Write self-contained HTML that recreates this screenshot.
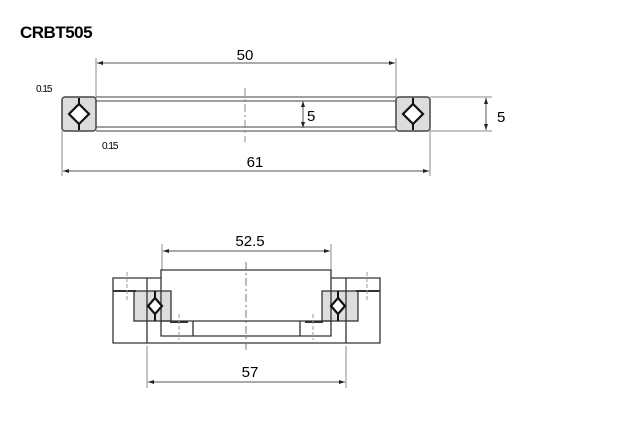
<!DOCTYPE html>
<html><head><style>body{margin:0;background:#fff}svg{display:block}</style></head><body>
<svg width="640" height="440" viewBox="0 0 640 440" xmlns="http://www.w3.org/2000/svg" font-family="Liberation Sans, sans-serif">
<defs>
<marker id="a" markerWidth="6" markerHeight="6" refX="6" refY="3" orient="auto-start-reverse" markerUnits="userSpaceOnUse"><path d="M0,1 L6,3 L0,5 z" fill="#222"/></marker>
</defs>
<text x="20" y="38" font-size="17" font-weight="bold" letter-spacing="-0.5">CRBT505</text>
<g stroke="#888" stroke-width="1" fill="none">
<line x1="96" y1="58" x2="96" y2="97"/><line x1="396" y1="58" x2="396" y2="97"/>
<line x1="62" y1="131" x2="62" y2="176"/><line x1="430" y1="131" x2="430" y2="176"/>
<line x1="430" y1="97" x2="492" y2="97"/><line x1="430" y1="131" x2="492" y2="131"/>
</g>
<g stroke="#555" stroke-width="1" fill="none">
<line x1="97" y1="63" x2="395" y2="63" marker-start="url(#a)" marker-end="url(#a)"/>
<line x1="63" y1="171" x2="429" y2="171" marker-start="url(#a)" marker-end="url(#a)"/>
<line x1="486" y1="98" x2="486" y2="130" marker-start="url(#a)" marker-end="url(#a)"/>
<line x1="303" y1="101" x2="303" y2="128" marker-start="url(#a)" marker-end="url(#a)"/>
</g>
<g stroke="#666" stroke-width="1.3">
<line x1="96" y1="97" x2="396" y2="97"/><line x1="96" y1="101" x2="396" y2="101"/>
<line x1="96" y1="127" x2="396" y2="127"/><line x1="96" y1="131" x2="396" y2="131"/>
</g>
<line x1="245" y1="88" x2="245" y2="142" stroke="#888" stroke-dasharray="8,3,2,3"/>
<rect x="62" y="97" width="34" height="34" rx="3" fill="#ddd" stroke="#444" stroke-width="1.5"/>
<rect x="396" y="97" width="34" height="34" rx="3" fill="#ddd" stroke="#444" stroke-width="1.5"/>
<g stroke="#111" stroke-width="2.2" fill="#fff">
<path d="M79,104 L89,114 L79,124 L69,114 Z"/><path d="M413,104 L423,114 L413,124 L403,114 Z"/>
</g>
<g stroke="#111" stroke-width="2"><line x1="79" y1="98" x2="79" y2="104"/><line x1="79" y1="124" x2="79" y2="130"/>
<line x1="413" y1="98" x2="413" y2="104"/><line x1="413" y1="124" x2="413" y2="130"/></g>
<text x="245" y="60" font-size="15" text-anchor="middle">50</text>
<text x="255" y="167" font-size="15" text-anchor="middle">61</text>
<text x="307" y="121" font-size="15">5</text>
<text x="497" y="122" font-size="15">5</text>
<text x="36" y="92" font-size="10" letter-spacing="-1">0.15</text>
<text x="102" y="149" font-size="10" letter-spacing="-1">0.15</text>
<g stroke="#888" stroke-width="1" fill="none">
<line x1="162" y1="244" x2="162" y2="270"/><line x1="331" y1="244" x2="331" y2="270"/>
<line x1="147" y1="346" x2="147" y2="388"/><line x1="346" y1="346" x2="346" y2="388"/>
</g>
<g stroke="#555" stroke-width="1" fill="none">
<line x1="163" y1="251" x2="330" y2="251" marker-start="url(#a)" marker-end="url(#a)"/>
<line x1="148" y1="382" x2="345" y2="382" marker-start="url(#a)" marker-end="url(#a)"/>
</g>
<text x="250" y="246" font-size="15" text-anchor="middle">52.5</text>
<text x="250" y="377" font-size="15" text-anchor="middle">57</text>
<rect x="134" y="291" width="37" height="30" fill="#ddd"/>
<rect x="322" y="291" width="36" height="30" fill="#ddd"/>
<g stroke="#333" stroke-width="1.3" fill="none">
<path d="M161,278 H113 V343 H380 V278 H331"/>
<line x1="147" y1="278" x2="147" y2="343"/><line x1="346" y1="278" x2="346" y2="343"/>
<path d="M161,336 V270 H331 V336 Z"/>
<line x1="161" y1="321" x2="331" y2="321"/>
<line x1="193" y1="321" x2="193" y2="336"/><line x1="300" y1="321" x2="300" y2="336"/>
<rect x="134" y="291" width="37" height="30"/><rect x="322" y="291" width="36" height="30"/>
<line x1="113" y1="291" x2="136" y2="291" stroke-width="2"/><line x1="356" y1="291" x2="380" y2="291" stroke-width="2"/>
<line x1="170" y1="322" x2="188" y2="322" stroke-width="2"/><line x1="305" y1="322" x2="323" y2="322" stroke-width="2"/>
</g>
<g stroke="#999" stroke-width="1" stroke-dasharray="4,2">
<line x1="127" y1="272" x2="127" y2="300"/><line x1="367" y1="272" x2="367" y2="300"/>
<line x1="179" y1="314" x2="179" y2="340"/><line x1="313" y1="314" x2="313" y2="340"/>
<line x1="246" y1="262" x2="246" y2="350" stroke="#777" stroke-dasharray="8,3,2,3"/>
</g>
<g stroke="#111" stroke-width="2.2" fill="#fff">
<path d="M155,298 L162,306 L155,314 L148,306 Z"/><path d="M338,298 L345,306 L338,314 L331,306 Z"/>
</g>
<g stroke="#111" stroke-width="2"><line x1="155" y1="291" x2="155" y2="298"/><line x1="155" y1="314" x2="155" y2="321"/>
<line x1="338" y1="291" x2="338" y2="298"/><line x1="338" y1="314" x2="338" y2="321"/></g>
</svg>
</body></html>
